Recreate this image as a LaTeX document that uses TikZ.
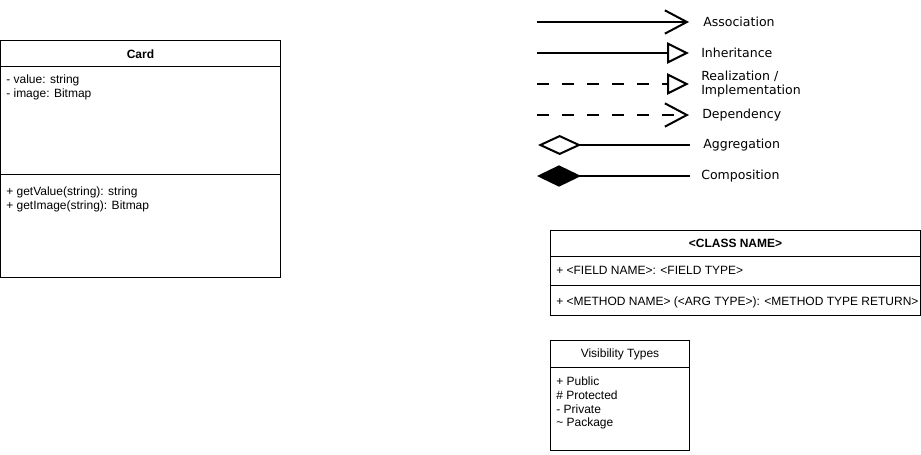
\documentclass[tikz,border=0pt]{standalone}
\usepackage{fontspec}
\setmainfont{Liberation Sans}
\newfontfamily\legendfont{DejaVu Sans}
\usetikzlibrary{arrows.meta}

\begin{document}
\begin{tikzpicture}[x=0.75pt, y=-0.75pt,
  box/.style={black, line width=0.75pt},
  member/.style={anchor=west, font=\fontsize{9}{10.5}\selectfont, inner sep=0pt, yshift=-1.1pt},
  title/.style={font=\fontsize{9}{10.5}\selectfont, inner sep=0pt, yshift=-0.6pt},
  legend/.style={anchor=west, font=\legendfont\fontsize{9.4}{11}\selectfont, inner sep=0pt, align=left, yshift=-0.8pt},
  rel/.style={line width=1.5pt},
  dashrel/.style={rel, dash pattern=on 9pt off 9.75pt}]
  \useasboundingbox (0,0) rectangle (921,454);

  % class Card
  \draw[box] (0.5,40.5) rectangle (280.5,277.5);
  \draw[box] (0.5,66.5) -- (280.5,66.5);
  \draw[box] (0.5,174.5) -- (280.5,174.5);
  \node[title, font=\fontsize{9}{10.5}\selectfont\bfseries] (card) at (140.5,53.5) {Card};
  \node[member] (cardvalue) at (6,79) {- value: string};
  \node[member] (cardimage) at (6,93) {- image: Bitmap};
  \node[member] (cardgetvalue) at (6,191) {+ getValue(string): string};
  \node[member] (cardgetimage) at (6,205) {+ getImage(string): Bitmap};

  % legend of relations
  \coordinate (asA) at (537,22);  \coordinate (asB) at (689,22);
  \coordinate (inA) at (537,53);  \coordinate (inB) at (689,53);
  \coordinate (reA) at (537,84);  \coordinate (reB) at (689,84);
  \coordinate (deA) at (537,115); \coordinate (deB) at (689,115);
  \coordinate (agA) at (538,145); \coordinate (agB) at (690,145);
  \coordinate (coA) at (537,176); \coordinate (coB) at (690,176);
  \draw[rel, -{Straight Barb[length=16.5pt, width=17.5pt]}] (asA) -- (asB);
  \draw[rel, -{Triangle[open, length=16.5pt, width=16pt]}] (inA) -- (inB);
  \draw[dashrel, -{Triangle[open, length=16.5pt, width=16pt]}] (reA) -- (reB);
  \draw[dashrel, -{Straight Barb[length=16.5pt, width=17.5pt]}] (deA) -- (deB);
  \draw[rel, {Diamond[open, length=32.5pt, width=15pt]}-] (agA) -- (agB);
  \draw[rel, {Diamond[length=33pt, width=16pt]}-] (coA) -- (coB);
  \node[legend] (association) at (703,21) {Association};
  \node[legend] (inheritance) at (701,52) {Inheritance};
  \node[legend] (realization) at (701,83) {Realization /\\Implementation};
  \node[legend] (dependency) at (702,114) {Dependency};
  \node[legend] (aggregation) at (703,144) {Aggregation};
  \node[legend] (composition) at (701,175) {Composition};

  % class template
  \draw[box] (550.5,230.5) rectangle (920.5,315.5);
  \draw[box] (550.5,256.5) -- (920.5,256.5);
  \draw[box] (550.5,285.5) -- (920.5,285.5);
  \node[title, font=\fontsize{9}{10.5}\selectfont\bfseries] (classname) at (735.5,243) {<CLASS NAME>};
  \node[member] (fieldname) at (556,269) {+ <FIELD NAME>: <FIELD TYPE>};
  \node[member] (methodname) at (556,301) {+ <METHOD NAME> (<ARG TYPE>): <METHOD TYPE RETURN>};

  % visibility types
  \draw[box] (550.5,340.5) rectangle (689.5,450.5);
  \draw[box] (550.5,367.5) -- (689.5,367.5);
  \node[title] (visibility) at (620,353.5) {Visibility Types};
  \node[member] (public) at (556,380) {+ Public};
  \node[member] (protected) at (556,394) {\# Protected};
  \node[member] (private) at (556,408) {- Private};
  \node[member] (package) at (556,422) {\textasciitilde{} Package};
\end{tikzpicture}
\end{document}
